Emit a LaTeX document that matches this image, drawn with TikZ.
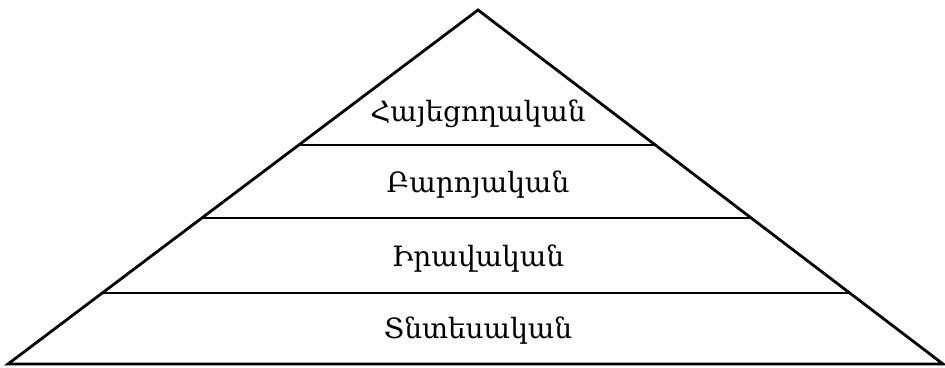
\documentclass[tikz,border=0pt]{standalone}
\usepackage{fontspec}
\newfontfamily\armfont{DejaVu Serif}
\usetikzlibrary{calc}

\begin{document}
\begin{tikzpicture}[x=1pt,y=1pt,line width=2.8pt,layer label/.style={font=\armfont\fontsize{28}{32}\selectfont,inner sep=0pt}]

        \useasboundingbox (0,0) rectangle (945,367);

        % outline
        \coordinate (top) at (478,357);
        \coordinate (bl)  at (8,3);
        \coordinate (br)  at (943,3);
        \draw (bl) -- (top) -- (br) -- cycle;

        % dividing lines
        \coordinate (l1) at ($(top)!0.3814!(bl)$);
        \coordinate (r1) at ($(top)!0.3814!(br)$);
        \coordinate (l2) at ($(top)!0.5876!(bl)$);
        \coordinate (r2) at ($(top)!0.5876!(br)$);
        \coordinate (l3) at ($(top)!0.7994!(bl)$);
        \coordinate (r3) at ($(top)!0.7994!(br)$);
        \draw (l1) -- (r1);
        \draw (l2) -- (r2);
        \draw (l3) -- (r3);

        \node[layer label] (aesthetic) at (478,253) {Հայեցողական};
        \node[layer label] (moral)     at (478,182) {Բարոյական};
        \node[layer label] (legal)     at (478,108) {Իրավական};
        \node[layer label] (economic)  at (478,36)  {Տնտեսական};
\end{tikzpicture}
\end{document}
